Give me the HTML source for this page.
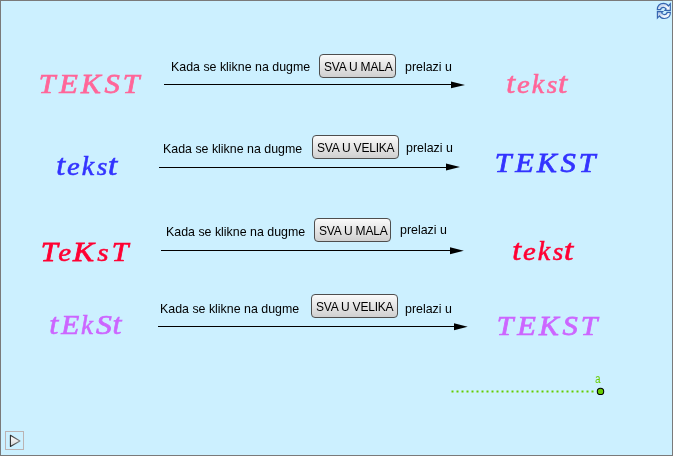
<!DOCTYPE html>
<html><head><meta charset="utf-8">
<style>
html,body{margin:0;padding:0;}
body{width:673px;height:456px;overflow:hidden;position:relative;background:#ccf0ff;font-family:"Liberation Sans",sans-serif;}
#frame{position:absolute;left:0;top:0;width:671px;height:454px;border:1px solid #7a7a7a;background:#ccf0ff;}
.lbl{position:absolute;will-change:transform;font-size:12.4px;line-height:15px;color:#000;white-space:nowrap;}
.btn{position:absolute;box-sizing:border-box;height:24px;border:1px solid #4e4e4e;border-radius:4px;background:linear-gradient(#fafafa,#d0d0d0);font-size:12px;line-height:24px;letter-spacing:-0.2px;color:#000;text-align:left;padding-left:4px;will-change:transform;white-space:nowrap;}
svg{position:absolute;left:0;top:0;}
.big text{font-family:"Liberation Serif",serif;font-weight:normal;font-style:italic;font-size:28.0px;}
</style></head><body>
<div id="frame"></div>
<svg width="673" height="456">
 <g fill="#000">
  <rect x="164" y="84" width="288" height="1"/>
  <rect x="159" y="167" width="288" height="1"/>
  <rect x="161" y="250" width="290" height="1"/>
  <rect x="158" y="326" width="297" height="1"/>
  <polygon points="451,81.5 465,84.9 451,88.3"/>
  <polygon points="446,163.4 460,166.9 446,170.4"/>
  <polygon points="450,247.3 463.8,250.8 450,254.3"/>
  <polygon points="454,323.3 467.7,326.75 454,330.2"/>
 </g>

 <!-- slider -->
 <g fill="#66cc00">
  <rect x="451.5" y="390.5" width="2" height="2"/>
  <rect x="456.5" y="390.5" width="2" height="2"/>
  <rect x="461.5" y="390.5" width="2" height="2"/>
  <rect x="466.5" y="390.5" width="2" height="2"/>
  <rect x="471.5" y="390.5" width="2" height="2"/>
  <rect x="476.5" y="390.5" width="2" height="2"/>
  <rect x="481.5" y="390.5" width="2" height="2"/>
  <rect x="486.5" y="390.5" width="2" height="2"/>
  <rect x="491.5" y="390.5" width="2" height="2"/>
  <rect x="496.5" y="390.5" width="2" height="2"/>
  <rect x="501.5" y="390.5" width="2" height="2"/>
  <rect x="506.5" y="390.5" width="2" height="2"/>
  <rect x="511.5" y="390.5" width="2" height="2"/>
  <rect x="516.5" y="390.5" width="2" height="2"/>
  <rect x="521.5" y="390.5" width="2" height="2"/>
  <rect x="526.5" y="390.5" width="2" height="2"/>
  <rect x="531.5" y="390.5" width="2" height="2"/>
  <rect x="536.5" y="390.5" width="2" height="2"/>
  <rect x="541.5" y="390.5" width="2" height="2"/>
  <rect x="546.5" y="390.5" width="2" height="2"/>
  <rect x="551.5" y="390.5" width="2" height="2"/>
  <rect x="556.5" y="390.5" width="2" height="2"/>
  <rect x="561.5" y="390.5" width="2" height="2"/>
  <rect x="566.5" y="390.5" width="2" height="2"/>
  <rect x="571.5" y="390.5" width="2" height="2"/>
  <rect x="576.5" y="390.5" width="2" height="2"/>
  <rect x="581.5" y="390.5" width="2" height="2"/>
  <rect x="586.5" y="390.5" width="2" height="2"/>
  <rect x="591.5" y="390.5" width="2" height="2"/>
 </g>
 <circle cx="600.5" cy="391.4" r="3.2" fill="#66cc00" stroke="#000" stroke-width="1.05"/>
 <!-- play button -->
 <defs><linearGradient id="pg" x1="0" y1="0" x2="1" y2="0"><stop offset="0" stop-color="#2a2a2a"/><stop offset="1" stop-color="#8a8a8a"/></linearGradient>
 <linearGradient id="pf" x1="0" y1="0" x2="0" y2="1"><stop offset="0" stop-color="#ffffff"/><stop offset="1" stop-color="#d8d8d8"/></linearGradient></defs>
 <rect x="5.5" y="431.5" width="18" height="18" fill="none" stroke="#bbb3b3" stroke-width="1"/>
 <polygon points="10.4,435.3 20,441 10.4,446.5" fill="url(#pf)" stroke="url(#pg)" stroke-width="1.1" stroke-linejoin="round"/>
 <!-- refresh icon -->
 <defs><linearGradient id="rg" x1="0" y1="0" x2="1" y2="1"><stop offset="0" stop-color="#9fb9e2"/><stop offset="0.6" stop-color="#eef3fb"/><stop offset="1" stop-color="#ffffff"/></linearGradient></defs>
 <g transform="translate(655,1)" fill="url(#rg)" stroke="#3565b0" stroke-width="1.15" stroke-linejoin="miter" stroke-miterlimit="3">
  <path d="M2.30,8.60 C2.30,4.60 4.80,2.40 8.40,2.40 C10.60,2.40 12.30,3.40 13.30,5.00 L15.30,2.80 L15.30,9.30 L9.90,9.30 L11.10,7.90 C10.30,6.90 9.40,6.30 8.30,6.30 C6.80,6.30 5.80,7.20 5.60,8.60 Z"/>
  <path d="M15.40,11.30 C15.40,15.30 12.90,17.50 9.30,17.50 C7.10,17.50 5.40,16.50 4.40,14.90 L2.40,17.10 L2.40,10.60 L7.80,10.60 L6.60,12.00 C7.40,13.00 8.30,13.60 9.40,13.60 C10.90,13.60 11.90,12.70 12.10,11.30 Z"/>
 </g>
</svg>
<svg width="673" height="456" style="will-change:transform">
 <g class="big">
 <g fill="#ff6699" stroke="#ff6699">
  <text transform="translate(38.82,93) scale(1.069,1.000)" stroke-width="0.75">T</text>
  <text transform="translate(59.13,93) scale(1.087,1.000)" stroke-width="0.75">E</text>
  <text transform="translate(81.12,93) scale(1.062,1.000)" stroke-width="0.75">K</text>
  <text transform="translate(104.42,93) scale(1.093,1.000)" stroke-width="0.75">S</text>
  <text transform="translate(122.82,93) scale(1.069,1.000)" stroke-width="0.75">T</text>
 </g>
 <g fill="#ff6699" stroke="#ff6699">
  <text transform="translate(506.18,93) scale(1.153,1.059)" stroke-width="0.6">t</text>
  <text transform="translate(517.02,93) scale(1.024,0.902)" stroke-width="0.6">e</text>
  <text transform="translate(531.80,93) scale(0.997,0.942)" stroke-width="0.6">k</text>
  <text transform="translate(546.77,93) scale(0.968,0.902)" stroke-width="0.6">s</text>
  <text transform="translate(557.93,93) scale(1.196,1.059)" stroke-width="0.6">t</text>
 </g>
 <g fill="#3333ff" stroke="#3333ff">
  <text transform="translate(56.18,175) scale(1.153,1.059)" stroke-width="0.6">t</text>
  <text transform="translate(67.02,175) scale(1.024,0.902)" stroke-width="0.6">e</text>
  <text transform="translate(81.80,175) scale(0.997,0.942)" stroke-width="0.6">k</text>
  <text transform="translate(96.77,175) scale(0.968,0.902)" stroke-width="0.6">s</text>
  <text transform="translate(107.93,175) scale(1.196,1.059)" stroke-width="0.6">t</text>
 </g>
 <g fill="#3333ff" stroke="#3333ff">
  <text transform="translate(494.82,172) scale(1.069,1.000)" stroke-width="0.75">T</text>
  <text transform="translate(515.13,172) scale(1.087,1.000)" stroke-width="0.75">E</text>
  <text transform="translate(537.12,172) scale(1.062,1.000)" stroke-width="0.75">K</text>
  <text transform="translate(560.42,172) scale(1.093,1.000)" stroke-width="0.75">S</text>
  <text transform="translate(578.82,172) scale(1.069,1.000)" stroke-width="0.75">T</text>
 </g>
 <g fill="#ff0033" stroke="#ff0033">
  <text transform="translate(40.67,261) scale(1.095,1.000)" stroke-width="0.75">T</text>
  <text transform="translate(58.31,261) scale(1.033,0.902)" stroke-width="0.6">e</text>
  <text transform="translate(72.94,261) scale(1.126,1.000)" stroke-width="0.75">K</text>
  <text transform="translate(97.24,261) scale(1.040,0.902)" stroke-width="0.6">s</text>
  <text transform="translate(111.72,261) scale(1.069,1.000)" stroke-width="0.75">T</text>
 </g>
 <g fill="#ff0033" stroke="#ff0033">
  <text transform="translate(512.18,260) scale(1.153,1.059)" stroke-width="0.6">t</text>
  <text transform="translate(523.02,260) scale(1.024,0.902)" stroke-width="0.6">e</text>
  <text transform="translate(537.80,260) scale(0.997,0.942)" stroke-width="0.6">k</text>
  <text transform="translate(552.77,260) scale(0.968,0.902)" stroke-width="0.6">s</text>
  <text transform="translate(563.93,260) scale(1.196,1.059)" stroke-width="0.6">t</text>
 </g>
 <g fill="#cc66ff" stroke="#cc66ff">
  <text transform="translate(49.26,334) scale(1.167,1.059)" stroke-width="0.6">t</text>
  <text transform="translate(61.32,334) scale(1.051,1.000)" stroke-width="0.75">E</text>
  <text transform="translate(81.12,334) scale(0.964,0.942)" stroke-width="0.6">k</text>
  <text transform="translate(95.90,334) scale(1.131,1.000)" stroke-width="0.75">S</text>
  <text transform="translate(112.38,334) scale(1.153,1.059)" stroke-width="0.6">t</text>
 </g>
 <g fill="#cc66ff" stroke="#cc66ff">
  <text transform="translate(496.82,335) scale(1.069,1.000)" stroke-width="0.75">T</text>
  <text transform="translate(517.13,335) scale(1.087,1.000)" stroke-width="0.75">E</text>
  <text transform="translate(539.12,335) scale(1.062,1.000)" stroke-width="0.75">K</text>
  <text transform="translate(562.42,335) scale(1.093,1.000)" stroke-width="0.75">S</text>
  <text transform="translate(580.82,335) scale(1.069,1.000)" stroke-width="0.75">T</text>
 </g>
 </g>
</svg>
<div style="position:absolute;left:594.6px;top:372px;font-size:12px;line-height:14px;color:#66cc00;will-change:transform;transform:scaleX(0.82);transform-origin:0 0">a</div>
<!-- row 1 -->
<div class="lbl" style="left:171px;top:60px">Kada se klikne na dugme</div>
<div class="btn" style="left:319px;top:54px;width:77px">SVA U MALA</div>
<div class="lbl" style="left:405px;top:60px">prelazi u</div>
<!-- row 2 -->
<div class="lbl" style="left:163px;top:142px">Kada se klikne na dugme</div>
<div class="btn" style="left:312px;top:135px;width:87px">SVA U VELIKA</div>
<div class="lbl" style="left:406px;top:141px">prelazi u</div>
<!-- row 3 -->
<div class="lbl" style="left:166px;top:225px">Kada se klikne na dugme</div>
<div class="btn" style="left:314px;top:218px;width:77px">SVA U MALA</div>
<div class="lbl" style="left:400px;top:223px">prelazi u</div>
<!-- row 4 -->
<div class="lbl" style="left:160px;top:302px">Kada se klikne na dugme</div>
<div class="btn" style="left:311px;top:294px;width:87px">SVA U VELIKA</div>
<div class="lbl" style="left:405px;top:302px">prelazi u</div>
</body></html>
